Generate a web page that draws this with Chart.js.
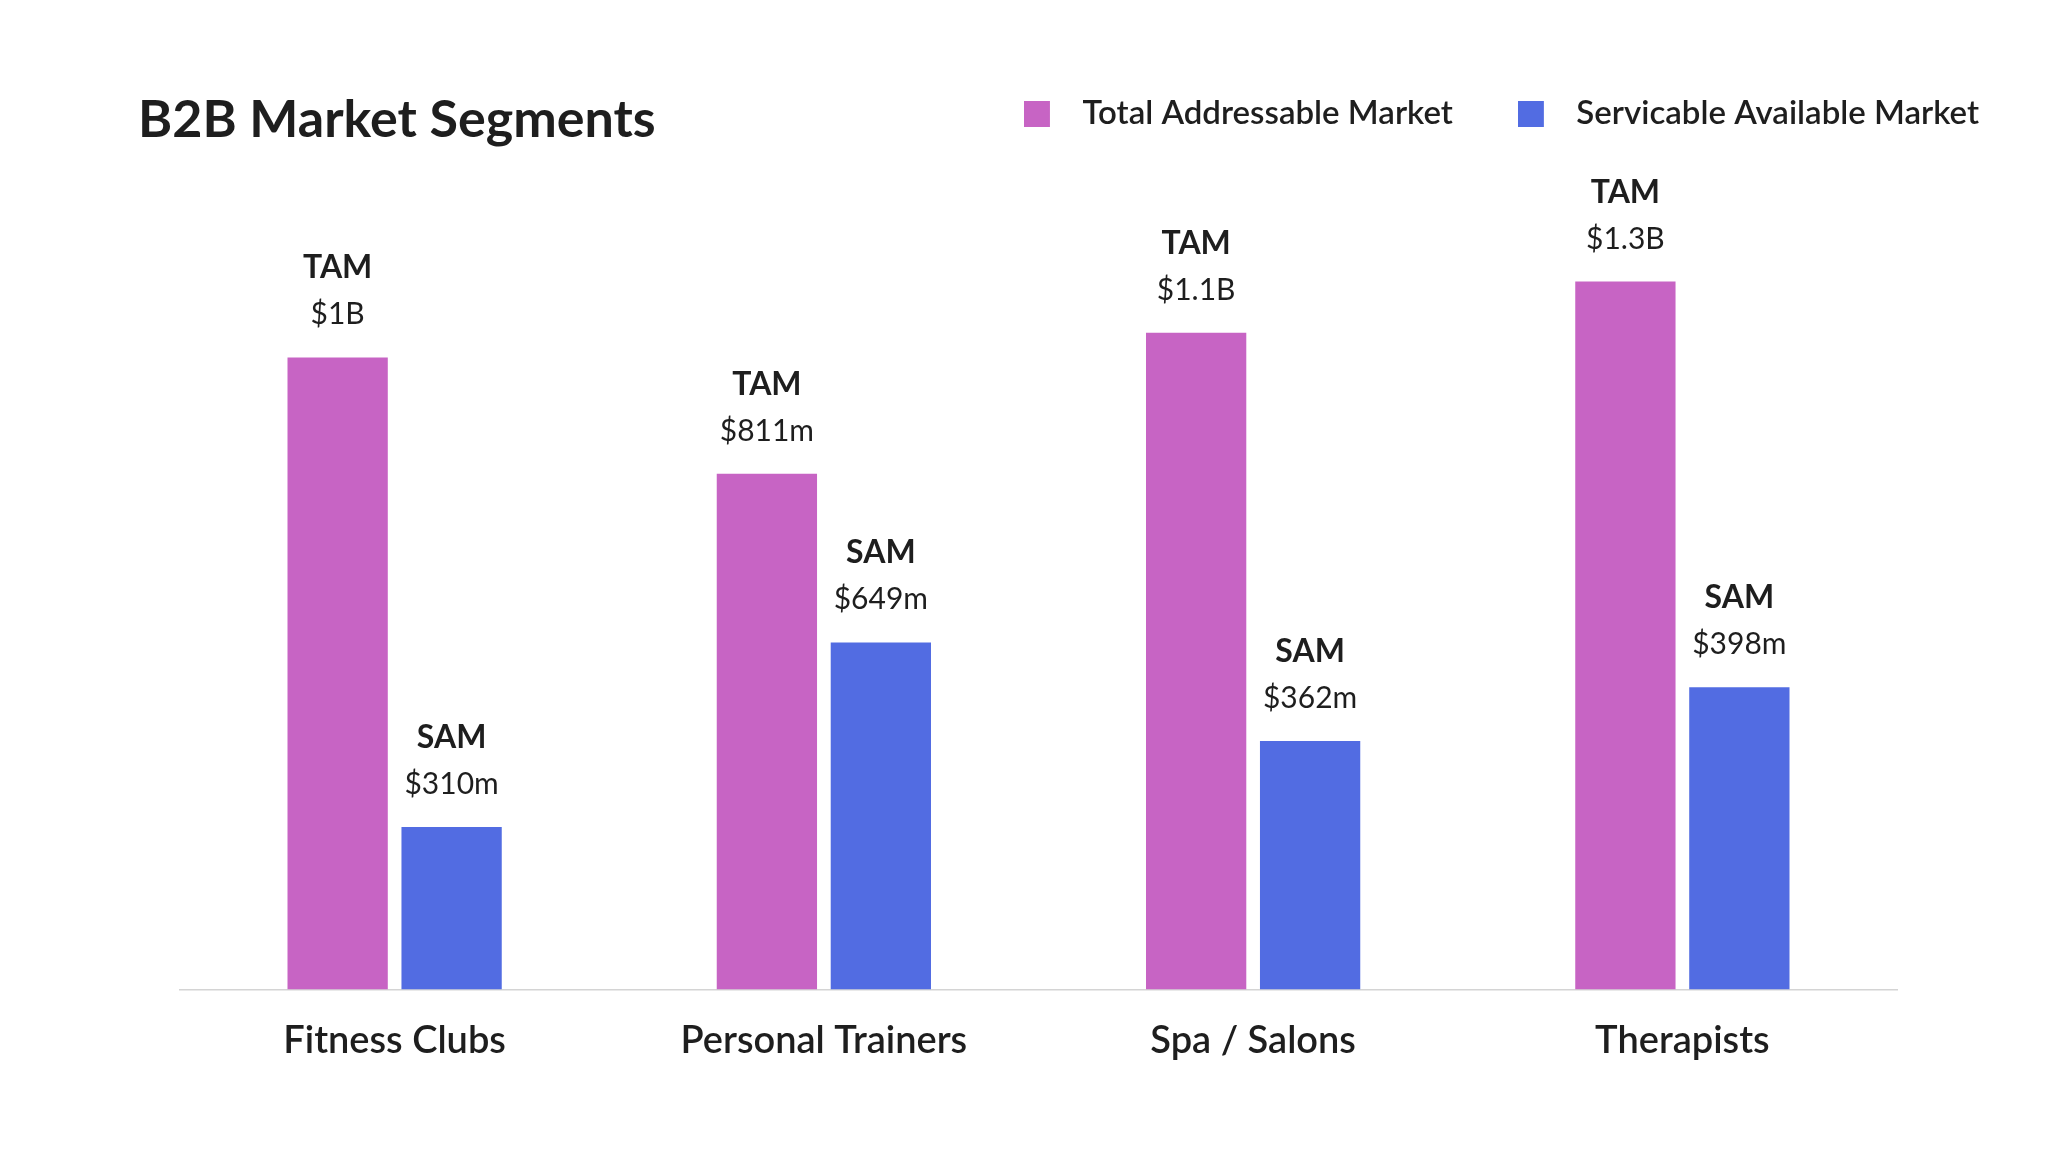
<!DOCTYPE html>
<html>
<head>
<meta charset="utf-8">
<script src="https://cdn.jsdelivr.net/npm/chart.js@4.4.1/dist/chart.umd.min.js"></script>
<style>
html,body{margin:0;padding:0;background:#fff;width:2048px;height:1165px;overflow:hidden;}
#wrap{position:relative;width:2048px;height:1165px;}
#title{position:absolute;left:138px;top:91px;font:700 52px Lato, sans-serif;line-height:52px;color:#1e1e1e;white-space:nowrap;}
canvas{position:absolute;left:0;top:0;}
</style>
</head>
<body>
<div id="wrap">
  <canvas id="c" width="2048" height="1165"></canvas>
  <div id="title">B2B Market Segments</div>
</div>
<script>
// ---- data ----
const categories = ['Fitness Clubs', 'Personal Trainers', 'Spa / Salons', 'Therapists'];
const seriesNames = ['Total Addressable Market', 'Servicable Available Market'];
const seriesShort = ['TAM', 'SAM'];
// bar heights as drawn in the picture ($m)
const tamValues = [1000, 816, 1039, 1120];
const samValues = [257, 549, 393, 478];
// value labels printed above the bars
const tamLabels = ['$1B', '$811m', '$1.1B', '$1.3B'];
const samLabels = ['$310m', '$649m', '$362m', '$398m'];

const colors = ['#C764C4', '#526CE2'];
const textColor = '#1e1e1e';
const valueLabels = [tamLabels, samLabels];

function marker(color) {
  const c = document.createElement('canvas');
  c.width = 42; c.height = 26;
  const x = c.getContext('2d');
  x.fillStyle = color;
  x.fillRect(0, 0, 26, 26);
  return c;
}
const markers = colors.map(marker);

const barLabels = {
  id: 'barLabels',
  afterDatasetsDraw(chart) {
    const ctx = chart.ctx;
    chart.data.datasets.forEach((ds, di) => {
      const meta = chart.getDatasetMeta(di);
      meta.data.forEach((bar, i) => {
        ctx.save();
        ctx.fillStyle = textColor;
        ctx.textAlign = 'center';
        ctx.textBaseline = 'alphabetic';
        ctx.font = '700 32px Lato';
        ctx.fillText(seriesShort[di], bar.x, bar.y - 79);
        ctx.font = '400 30px Lato';
        ctx.fillText(valueLabels[di][i], bar.x, bar.y - 33);
        ctx.restore();
      });
    });
  }
};

function make() {
  new Chart(document.getElementById('c'), {
    type: 'bar',
    data: {
      labels: categories,
      datasets: [
        { label: seriesNames[0], data: tamValues, backgroundColor: colors[0], borderWidth: 0 },
        { label: seriesNames[1], data: samValues, backgroundColor: colors[1], borderWidth: 0 }
      ]
    },
    options: {
      responsive: false,
      devicePixelRatio: 1,
      animation: false,
      categoryPercentage: 0.531,
      barPercentage: 0.88,
      layout: { padding: { left: 180, right: 4, top: 32, bottom: 72 } },
      plugins: {
        title: { display: false },
        tooltip: { enabled: false },
        legend: {
          position: 'top',
          align: 'end',
          labels: {
            usePointStyle: true,
            pointStyleWidth: 42,
            boxHeight: 26,
            padding: 65,
            color: textColor,
            font: { family: 'Lato', size: 33, weight: '600' },
            generateLabels(chart) {
              const items = Chart.defaults.plugins.legend.labels.generateLabels(chart);
              items.forEach((it, i) => { it.pointStyle = markers[i]; });
              return items;
            }
          }
        }
      },
      scales: {
        x: {
          grid: { display: false, drawTicks: false },
          border: { display: true, color: '#d4d4d4', width: 1.5 },
          ticks: {
            padding: 29,
            color: textColor,
            font: { family: 'Lato', size: 38, weight: '600' }
          }
        },
        y: {
          position: 'right',
          min: 0,
          max: 1344,
          grid: { display: false, drawTicks: false },
          border: { display: false },
          ticks: { display: false },
          afterFit(scale) { scale.width = 147; }
        }
      }
    },
    plugins: [barLabels]
  });
}

Promise.all([
  document.fonts.load('700 52px Lato'),
  document.fonts.load('600 33px Lato'),
  document.fonts.load('700 32px Lato'),
  document.fonts.load('400 30px Lato')
]).then(make, make);
</script>
</body>
</html>
